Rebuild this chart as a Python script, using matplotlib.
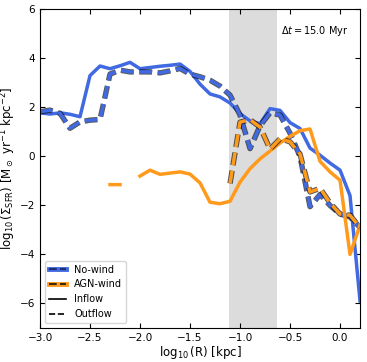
import numpy as np
import matplotlib
matplotlib.use("Agg")
import matplotlib.pyplot as plt
import matplotlib.patheffects as pe
from matplotlib.lines import Line2D

# radial bins, log10(R / kpc)
logR = np.round(np.arange(-3.0, 0.21, 0.1), 1)

# No-wind run
nowind_in = [1.78, 1.73, 1.78, 1.72, 1.62, 3.30, 3.69, 3.58, 3.70, 3.84, 3.58,
             3.63, 3.68, 3.72, 3.77, 3.47, 2.95, 2.55, 2.43, 2.18, 1.75, 1.45,
             1.33, 1.95, 1.88, 1.38, 1.14, 0.34, 0.05, -0.27, -0.56, -1.60, -5.9]
nowind_out = [1.82, 1.89, 1.76, 1.15, 1.41, 1.48, 1.51, 3.36, 3.52, 3.45, 3.45,
              3.45, 3.41, 3.49, 3.59, 3.36, 3.25, 3.11, 2.87, 2.50, 1.69, 0.32,
              1.25, 1.78, 1.69, 0.95, 0.0, -2.05, -1.55, -2.0, -2.35, -2.47, -2.9]

# AGN-wind run (nan = no star formation in bin)
nan = np.nan
agn_in = [nan, nan, nan, nan, nan, nan, nan, -1.15, -1.15, nan, -0.80,
          -0.56, -0.73, -0.68, -0.63, -0.72, -1.08, -1.87, -1.93, -1.83, -1.05, -0.50,
          -0.10, 0.22, 0.55, 0.82, 1.05, 1.12, -0.20, -0.63, -0.97, -4.0, -2.8]
agn_out = [nan, nan, nan, nan, nan, nan, nan, nan, nan, nan, nan,
           nan, nan, nan, nan, nan, nan, nan, nan, -1.10, 1.40, 1.50,
           1.20, 0.30, 0.72, 0.60, 0.10, -1.45, -1.30, -1.90, -2.35, -2.40, -2.9]

wind_region = (-1.11, -0.63)
c_nowind = "royalblue"
c_agn = "#ff9a1c"
lw = 2.5

fig = plt.figure(figsize=(3.67, 3.62), dpi=100)
ax = fig.add_axes([0.109, 0.094, 0.872, 0.880])

ax.axvspan(*wind_region, color="#dcdcdc", lw=0, zorder=0)

outline = [pe.Stroke(linewidth=lw + 1.4, foreground="k", alpha=0.65), pe.Normal()]

ax.plot(logR, nowind_in, color=c_nowind, lw=lw)
ax.plot(logR, nowind_out, color=c_nowind, lw=lw, ls="--", path_effects=outline)
ax.plot(logR, agn_in, color=c_agn, lw=lw)
ax.plot(logR, agn_out, color=c_agn, lw=lw, ls="--", path_effects=outline)

ax.text(0.965, 0.955, r"$\Delta t = 15.0$ Myr", transform=ax.transAxes,
        ha="right", va="top", fontsize=7)

ax.set_xlim(-3.0, 0.2)
ax.set_ylim(-7, 6)
ax.set_xticks([-3.0, -2.5, -2.0, -1.5, -1.0, -0.5, 0.0])
ax.set_yticks([-6, -4, -2, 0, 2, 4, 6])
ax.tick_params(direction="in", top=True, right=True, labelsize=7.5)
ax.set_xlabel(r"$\log_{10}$(R) [kpc]", fontsize=8.5, labelpad=1)
ax.set_ylabel(r"$\log_{10}(\Sigma_{\rm SFR})$ [M$_\odot$ yr$^{-1}$ kpc$^{-2}$]",
              fontsize=8.5, labelpad=1)

h_nowind = (Line2D([], [], color=c_nowind, lw=lw + 1),
            Line2D([], [], color="#1f2f6f", lw=1.5, ls="--"))
h_agn = (Line2D([], [], color=c_agn, lw=lw + 1),
         Line2D([], [], color="#3a2a10", lw=1.5, ls="--"))
h_in = Line2D([], [], color="k", lw=1.2)
h_out = Line2D([], [], color="k", lw=1.2, ls="--")
ax.legend([h_nowind, h_agn, h_in, h_out], ["No-wind", "AGN-wind", "Inflow", "Outflow"],
          loc="lower left", fontsize=7, handlelength=1.8)

fig.savefig("out.png", dpi=100)
